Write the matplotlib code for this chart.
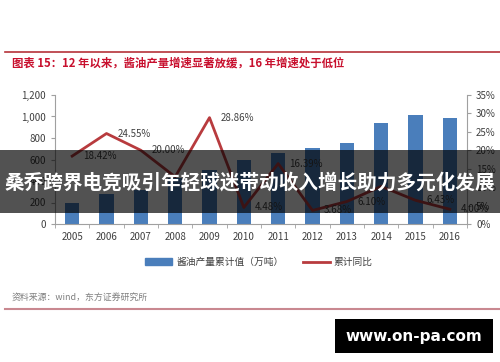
import numpy as np
import matplotlib
matplotlib.use("Agg")
import matplotlib.pyplot as plt
from matplotlib.patches import Rectangle
from matplotlib.lines import Line2D

plt.rcParams['font.family'] = ['Noto Sans CJK SC', 'DejaVu Sans']

# data
years = ['2005', '2006', '2007', '2008', '2009', '2010',
         '2011', '2012', '2013', '2014', '2015', '2016']
output = [195, 275, 320, 430, 502, 595, 660, 707, 753, 940, 1014, 986]   # 万吨
growth = [18.42, 24.55, 20.00, 12.80, 28.86, 4.48, 16.39, 3.68, 6.10, 10.20, 6.43, 4.00]
shown = [True, True, True, False, True, True, True, True, True, False, True, True]

title = '图表 15：12 年以来，酱油产量增速显著放缓，16 年增速处于低位'
source = '资料来源：wind，东方证券研究所'
banner = '桑乔跨界电竞吸引年轻球迷带动收入增长助力多元化发展'

W, H = 500, 362
fig = plt.figure(figsize=(W / 100, H / 100), dpi=100)
fig.patch.set_facecolor('white')

def fx(px):
    return px / W

def fy(py):
    return 1 - py / H

# header / footer rules and texts
fig.add_artist(Line2D([fx(5), fx(500)], [fy(52), fy(52)], color='#b5323a', lw=1.2))
fig.text(fx(12), fy(63), title, color='#c8102e', fontsize=8.2, fontweight='bold', va='center')
fig.text(fx(12), fy(298), source, color='#7f7f7f', fontsize=6.4, va='center')
fig.add_artist(Line2D([fx(5), fx(500)], [fy(309), fy(309)], color='#c98890', lw=1.5))

ax = fig.add_axes([fx(55), fy(224), fx(467) - fx(55), fy(95) - fy(224)])
x = np.arange(len(years))
ax.bar(x, output, width=0.42, color='#4a7ebb', zorder=2)
ax.set_xlim(-0.5, len(years) - 0.5)
ax.set_ylim(0, 1200)
ax.set_yticks(range(0, 1201, 200))
ax.set_yticklabels(['0', '200', '400', '600', '800', '1,000', '1,200'])
ax.set_xticks(x)
ax.set_xticklabels(years)
ax.set_xticks(np.arange(-0.5, len(years), 1), minor=True)
ax.tick_params(axis='x', which='major', length=0, labelsize=7, colors='#404040', pad=6)
ax.tick_params(axis='x', which='minor', length=3, color='#a0a0a0')
ax.tick_params(axis='y', labelsize=7, colors='#404040', length=3, color='#a0a0a0')
for s in ['top', 'right']:
    ax.spines[s].set_visible(False)
for s in ['left', 'bottom']:
    ax.spines[s].set_color('#a0a0a0')
    ax.spines[s].set_linewidth(0.8)

ax2 = ax.twinx()
ax2.plot(x, growth, color='#b83b3e', lw=2, zorder=3)
ax2.set_ylim(0, 35)
ax2.set_yticks(range(0, 36, 5))
ax2.set_yticklabels([f'{v}%' for v in range(0, 36, 5)])
ax2.tick_params(axis='y', labelsize=7, colors='#404040', length=3, color='#a0a0a0')
for s in ['top', 'left', 'bottom']:
    ax2.spines[s].set_visible(False)
ax2.spines['right'].set_color('#a0a0a0')
ax2.spines['right'].set_linewidth(0.8)
for xi, g, sh in zip(x, growth, shown):
    if sh:
        ax2.annotate(f'{g:.2f}%', (xi, g), xytext=(8, 0), textcoords='offset points',
                     ha='left', va='center', fontsize=7, color='#404040')

handles = [Rectangle((0, 0), 1, 1, color='#4a7ebb'), Line2D([], [], color='#b83b3e', lw=2)]
fig.legend(handles, ['酱油产量累计值（万吨）', '累计同比'], loc='center',
           bbox_to_anchor=(fx(259), fy(262)), ncol=2, frameon=False, fontsize=7,
           handlelength=2.8, handleheight=0.6, columnspacing=2.0, handletextpad=0.4,
           labelcolor='#404040')

# overlay banner
fig.add_artist(Rectangle((0, fy(213)), 1, fy(150) - fy(213), transform=fig.transFigure,
                         facecolor='black', alpha=0.68, edgecolor='none', zorder=10))
fig.text(0.5, fy(183), banner, color='white', fontsize=14.1, fontweight='bold',
         ha='center', va='center', zorder=11)

# watermark box
fig.add_artist(Rectangle((fx(335), fy(353)), fx(493) - fx(335), fy(319) - fy(353),
                         transform=fig.transFigure, facecolor='black', edgecolor='none', zorder=10))
fig.text(fx(414), fy(336), 'www.on-pa.com', color='white', fontsize=11, fontweight='bold',
         ha='center', va='center', family=['DejaVu Sans'], zorder=11)

fig.savefig('out.png', dpi=100)
